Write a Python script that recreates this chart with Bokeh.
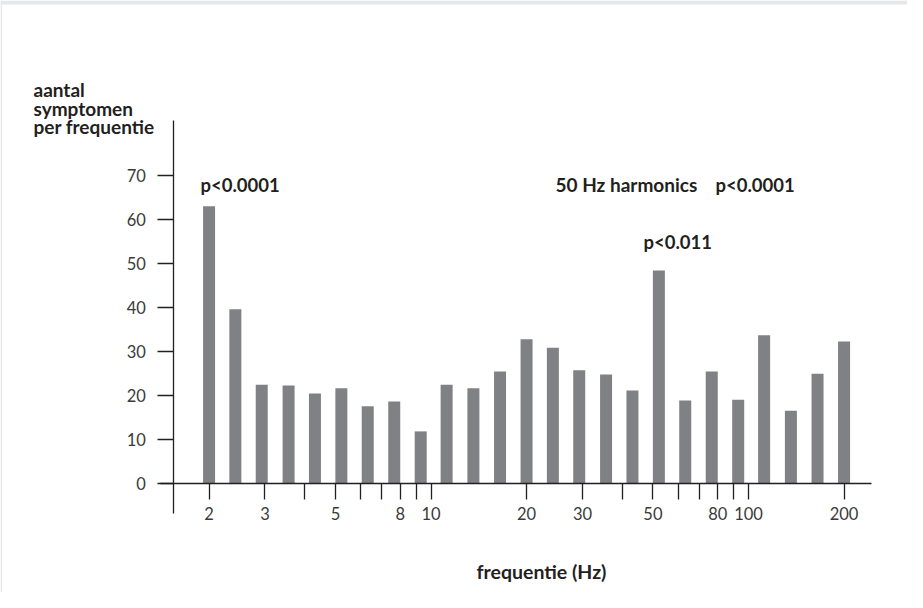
from bokeh.plotting import figure
from bokeh.models import (Range1d, FixedTicker, BasicTickFormatter, Label, ColumnDataSource,
                          BoxAnnotation)
from bokeh.embed import file_html
from bokeh.resources import INLINE

# ---- data ----
freqs = [2.0, 2.42, 2.93, 3.56, 4.31, 5.22, 6.32, 7.66, 9.28, 11.2, 13.6, 16.5,
         20.0, 24.2, 29.3, 35.6, 43.1, 52.2, 63.2, 76.6, 92.8, 112.0, 136.0, 165.0, 200.0]
counts = [63.0, 39.6, 22.5, 22.3, 20.5, 21.7, 17.6, 18.7, 11.9, 22.5, 21.7, 25.5,
          32.8, 30.9, 25.8, 24.8, 21.2, 48.4, 18.9, 25.5, 19.1, 33.7, 16.6, 25.0, 32.3]
y_ticks = [0, 10, 20, 30, 40, 50, 60, 70]
x_ticks = [2, 3, 4, 5, 6, 7, 8, 9, 10, 20, 30, 40, 50, 60, 70, 80, 90, 100, 200]
x_tick_labels = ["2", "3", "", "5", "", "", "8", "", "10", "20", "30", "", "50", "", "", "80", "", "100", "200"]
y_title_lines = ["aantal", "symptomen", "per frequentie"]
x_title = "frequentie (Hz)"
notes = ["p<0.0001", "50 Hz harmonics", "p<0.0001", "p<0.011"]

FONT = "Lato"
INK = "#231f20"
BAR = "#808184"
FRAME_GREY = "#e6e7e9"

W, H = 907, 592
X0, PXD = 113.0, 317.5          # screen x of log10(f)=0, pixels per decade
Y0, PXU = 483.3, 4.405          # screen y of count 0, pixels per count

p = figure(width=W, height=H, x_axis_type="log",
           x_range=Range1d(10 ** ((0 - X0) / PXD), 10 ** ((W - X0) / PXD)),
           y_range=Range1d((Y0 - H) / PXU, Y0 / PXU),
           output_backend="svg", toolbar_location=None,
           min_border_left=0, min_border_right=0, min_border_top=0, min_border_bottom=0)
p.outline_line_color = None
p.xgrid.visible = False
p.ygrid.visible = False
p.background_fill_color = "white"
p.border_fill_color = "white"

# thin grey page frame (top band and left edge)
p.add_layout(BoxAnnotation(bottom=(Y0 - 4) / PXU, fill_color=FRAME_GREY, fill_alpha=1,
                           line_color=None, level="underlay"))
p.add_layout(BoxAnnotation(right=10 ** ((1.5 - X0) / PXD), fill_color=FRAME_GREY, fill_alpha=1,
                           line_color=None, level="underlay"))

src = ColumnDataSource(dict(x=freqs, top=counts, mid=[c / 2 for c in counts]))
p.rect(x="x", y="mid", width=12, height="top", width_units="screen",
       source=src, fill_color=BAR, line_color=None)

# axes at fixed positions (crossing)
xa = p.xaxis[0]
xa.fixed_location = 0
xa.bounds = (10 ** ((160 - X0) / PXD), 10 ** ((871 - X0) / PXD))
xa.ticker = FixedTicker(ticks=x_ticks, minor_ticks=[])
xa.formatter = BasicTickFormatter()
xa.major_label_overrides = {t: l for t, l in zip(x_ticks, x_tick_labels)}
xa.major_tick_out = 16
xa.major_tick_in = 0
xa.minor_tick_out = 0
xa.minor_tick_in = 0
xa.major_label_standoff = 7
xa.axis_line_color = INK
xa.axis_line_width = 1.3
xa.major_tick_line_color = INK
xa.major_tick_line_width = 1.3
xa.major_label_text_font = FONT
xa.major_label_text_font_size = "16.5px"
xa.major_label_text_color = "#3a3a3a"

ya = p.yaxis[0]
ya.fixed_location = 10 ** ((173.3 - X0) / PXD)
ya.bounds = ((Y0 - 513) / PXU, (Y0 - 120) / PXU)
ya.ticker = FixedTicker(ticks=y_ticks, minor_ticks=[])
ya.major_tick_out = 16
ya.major_tick_in = 0
ya.minor_tick_out = 0
ya.minor_tick_in = 0
ya.major_label_standoff = 12
ya.axis_line_color = INK
ya.axis_line_width = 1.3
ya.major_tick_line_color = INK
ya.major_tick_line_width = 1.3
ya.major_label_text_font = FONT
ya.major_label_text_font_size = "16.5px"
ya.major_label_text_color = "#3a3a3a"


def page_label(text, px, py, size="19px", align="left"):
    # px, py are canvas pixel coordinates from the top-left corner
    return Label(x=px, y=H - py, x_units="screen", y_units="screen", text=text,
                 text_font=FONT, text_font_size=size, text_font_style="bold",
                 text_color=INK, text_align=align, text_baseline="alphabetic")


for line, by in zip(y_title_lines, [89, 107.5, 126]):
    p.add_layout(page_label(line, 33, by, size="19px"))

p.add_layout(page_label(x_title, 541, 571, size="19.5px", align="center"))
p.add_layout(page_label(notes[0], 200, 184, size="18.5px"))
p.add_layout(page_label(notes[1], 555, 184, size="19px"))
p.add_layout(page_label(notes[2], 715, 184, size="18.5px"))
p.add_layout(page_label(notes[3], 643, 241, size="18.5px"))

open("out.html", "w").write(file_html(p, INLINE))
